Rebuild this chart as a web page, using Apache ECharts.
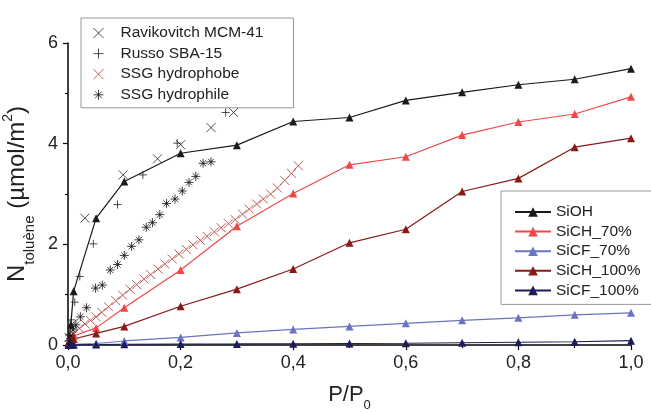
<!DOCTYPE html>
<html>
<head>
<meta charset="utf-8">
<script src="https://cdn.jsdelivr.net/npm/echarts@6/dist/echarts.min.js"></script>
<style>html,body{margin:0;padding:0;background:#fff;}#c{width:651px;height:412px;}</style>
</head>
<body>
<div id="c"></div>
<script>
// Simulated isotherms (P/P0 grid)
const xSim = [0.001, 0.005, 0.01, 0.05, 0.1, 0.2, 0.3, 0.4, 0.5, 0.6, 0.7, 0.8, 0.9, 1.0];
const ySiOH   = [0.05, 0.40, 1.07, 2.52, 3.25, 3.81, 3.97, 4.44, 4.52, 4.86, 5.02, 5.17, 5.28, 5.49];
const ySiCH70 = [0.05, 0.13, 0.18, 0.34, 0.74, 1.49, 2.36, 3.01, 3.58, 3.74, 4.17, 4.43, 4.59, 4.93];
const ySiCF70 = [0.005, 0.01, 0.015, 0.03, 0.08, 0.15, 0.24, 0.31, 0.37, 0.43, 0.49, 0.54, 0.60, 0.64];
const ySiCH100 = [0.03, 0.08, 0.12, 0.23, 0.37, 0.77, 1.11, 1.51, 2.03, 2.30, 3.05, 3.31, 3.93, 4.11];
const ySiCF100 = [0.002, 0.004, 0.005, 0.01, 0.015, 0.02, 0.022, 0.025, 0.03, 0.035, 0.045, 0.055, 0.065, 0.085];

// Experimental data
const xRavik = [0.002, 0.008, 0.03, 0.098, 0.159, 0.2, 0.254, 0.294];
const yRavik = [0.15, 0.42, 2.52, 3.38, 3.70, 3.98, 4.32, 4.62];
const xRusso = [0.002, 0.006, 0.012, 0.021, 0.045, 0.088, 0.133, 0.194, 0.28];
const yRusso = [0.20, 0.50, 0.85, 1.36, 2.01, 2.79, 3.38, 4.01, 4.62];
const xPhobe = [0.005, 0.01, 0.02, 0.03, 0.04, 0.05, 0.06, 0.072, 0.085, 0.097, 0.11, 0.122, 0.135, 0.147, 0.16, 0.172, 0.185, 0.197, 0.21, 0.222, 0.235, 0.247, 0.26, 0.272, 0.285, 0.297, 0.31, 0.322, 0.335, 0.347, 0.36, 0.372, 0.385, 0.397, 0.409];
const yPhobe = [0.12, 0.22, 0.33, 0.42, 0.49, 0.56, 0.65, 0.76, 0.88, 0.99, 1.11, 1.20, 1.31, 1.40, 1.51, 1.61, 1.71, 1.81, 1.90, 1.99, 2.08, 2.16, 2.25, 2.33, 2.41, 2.49, 2.60, 2.70, 2.80, 2.90, 3.00, 3.12, 3.27, 3.41, 3.56];
const xPhile = [0.002, 0.005, 0.009, 0.014, 0.022, 0.033, 0.049, 0.061, 0.075, 0.088, 0.10, 0.113, 0.126, 0.139, 0.15, 0.163, 0.175, 0.19, 0.203, 0.215, 0.227, 0.24, 0.254];
const yPhile = [0.08, 0.18, 0.30, 0.40, 0.56, 0.74, 1.13, 1.19, 1.49, 1.60, 1.78, 1.96, 2.09, 2.34, 2.43, 2.59, 2.81, 2.90, 3.06, 3.23, 3.35, 3.61, 3.64];

const xTicks = ['0,0', '0,2', '0,4', '0,6', '0,8', '1,0'];
const yTicks = ['0', '2', '4', '6'];

const zip = (xs, ys) => xs.map((x, i) => [x, ys[i]]);

const P_CROSS = 'path://M0,0L10,10M10,0L0,10';
const P_PLUS = 'path://M5,0L5,10M0,5L10,5';
const P_STAR = 'path://M5,0L5,10M0,5L10,5M1.6,1.6L8.4,8.4M8.4,1.6L1.6,8.4';

const FONT = 'Liberation Sans, Arial, sans-serif';

function simLine(name, ys, color) {
  return {
    name, type: 'line', data: zip(xSim, ys),
    symbol: 'triangle', symbolSize: 8,
    lineStyle: { color, width: 1.2 },
    itemStyle: { color },
    z: 3
  };
}
function expScatter(name, xs, ys, sym, color, size) {
  return {
    name, type: 'scatter', data: zip(xs, ys),
    symbol: sym, symbolSize: size,
    itemStyle: { color: 'rgba(0,0,0,0)', borderColor: color, borderWidth: 1 },
    z: 4
  };
}

const chart = echarts.init(document.getElementById('c'), null, { renderer: 'canvas' });
chart.setOption({
  animation: false,
  backgroundColor: '#fff',
  grid: { left: 68, right: 20, top: 43, bottom: 67, containLabel: false, outerBoundsMode: 'none' },
  xAxis: {
    type: 'value', min: 0, max: 1, interval: 0.2,
    axisLine: { lineStyle: { color: '#000', width: 1.5 } },
    axisTick: { show: true, inside: false, length: 5, lineStyle: { color: '#000', width: 1.2 } },
    minorTick: { show: true, splitNumber: 2, length: 3, lineStyle: { color: '#000', width: 1.2 } },
    splitLine: { show: false },
    axisLabel: { margin: 9, fontFamily: FONT, fontSize: 18, color: '#222',
      formatter: v => xTicks[Math.round(v / 0.2)] },
    name: '{a|P/P}{s|0}', nameLocation: 'middle', nameGap: 33,
    nameTextStyle: { rich: {
      a: { fontFamily: FONT, fontSize: 22, color: '#222', lineHeight: 34, verticalAlign: 'middle' },
      s: { fontFamily: FONT, fontSize: 13, color: '#222', lineHeight: 13, verticalAlign: 'bottom' }
    } }
  },
  yAxis: {
    type: 'value', min: 0, max: 6, interval: 2,
    axisLine: { show: true, lineStyle: { color: '#000', width: 1.5 } },
    axisTick: { show: true, inside: false, length: 5, lineStyle: { color: '#000', width: 1.2 } },
    minorTick: { show: true, splitNumber: 2, length: 3, lineStyle: { color: '#000', width: 1.2 } },
    splitLine: { show: false },
    axisLabel: { margin: 10, fontFamily: FONT, fontSize: 18, color: '#222',
      formatter: v => yTicks[Math.round(v / 2)] },
    name: '{a|N}{s|toluène}{a| (µmol/m}{p|2}{a|)}', nameLocation: 'middle', nameRotate: 90, nameGap: 28,
    nameTextStyle: { rich: {
      a: { fontFamily: FONT, fontSize: 24, color: '#222', lineHeight: 40, verticalAlign: 'middle' },
      s: { fontFamily: FONT, fontSize: 15, color: '#222', lineHeight: 15, verticalAlign: 'bottom' },
      p: { fontFamily: FONT, fontSize: 14, color: '#222', lineHeight: 14, verticalAlign: 'top', padding: [4, 0, 0, 0] }
    } }
  },
  legend: [
    {
      orient: 'vertical', left: 81, top: 18,
      padding: [6, 30, 4, 12], itemGap: 2.6, itemWidth: 10, itemHeight: 10,
      borderColor: '#999', borderWidth: 1, backgroundColor: '#fff',
      itemStyle: { color: 'rgba(0,0,0,0)', borderWidth: 1 },
      textStyle: { fontFamily: FONT, fontSize: 15.5, color: '#222', lineHeight: 18, padding: [0, 0, 0, 12] },
      data: [
        { name: 'Ravikovitch MCM-41', icon: P_CROSS },
        { name: 'Russo SBA-15', icon: P_PLUS },
        { name: 'SSG hydrophobe', icon: P_CROSS },
        { name: 'SSG hydrophile', icon: P_STAR }
      ]
    },
    {
      orient: 'vertical', left: 501, top: 191,
      padding: [12, 30, 5, 13], itemGap: 1.6, itemWidth: 36, itemHeight: 12,
      borderColor: '#999', borderWidth: 1, backgroundColor: '#fff',
      textStyle: { fontFamily: FONT, fontSize: 15.5, color: '#222', lineHeight: 18 },
      data: ['SiOH', 'SiCH_70%', 'SiCF_70%', 'SiCH_100%', 'SiCF_100%']
    }
  ],
  series: [
    simLine('SiOH', ySiOH, '#1a1a1a'),
    simLine('SiCH_70%', ySiCH70, '#f04848'),
    simLine('SiCF_70%', ySiCF70, '#6b73c0'),
    simLine('SiCH_100%', ySiCH100, '#8b1818'),
    simLine('SiCF_100%', ySiCF100, '#1c1c5c'),
    expScatter('Ravikovitch MCM-41', xRavik, yRavik, P_CROSS, '#222', 9),
    expScatter('Russo SBA-15', xRusso, yRusso, P_PLUS, '#222', 8),
    expScatter('SSG hydrophobe', xPhobe, yPhobe, P_CROSS, '#b03030', 9),
    expScatter('SSG hydrophile', xPhile, yPhile, P_STAR, '#111', 9)
  ]
});
</script>
</body>
</html>
